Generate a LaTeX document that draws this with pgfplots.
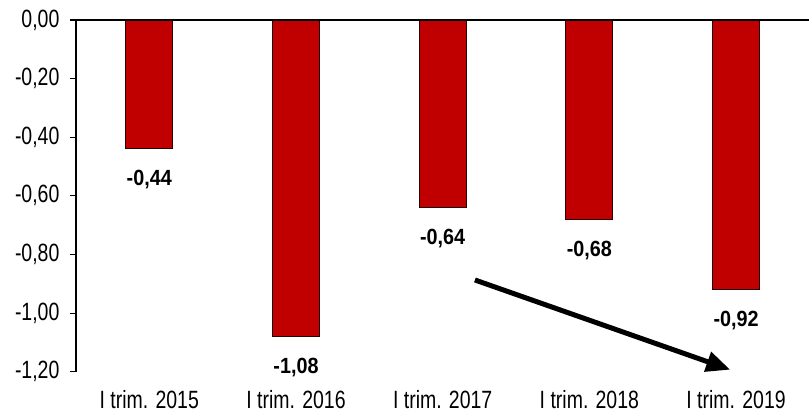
\documentclass[border=0pt]{standalone}
\usepackage{fontspec}
\setmainfont{Liberation Sans}
\newfontfamily\tickfont{Liberation Sans}[FakeStretch=0.78]
\newfontfamily\labfont{Liberation Sans}[FakeStretch=0.9]
\usepackage{pgfplots}
\pgfplotsset{compat=1.18}
\usetikzlibrary{arrows.meta}
\definecolor{barred}{HTML}{C00000}
\begin{document}
\begin{tikzpicture}
\path (-76pt,-43pt) rectangle (734pt,372pt);
\begin{axis}[
  at={(0,0)}, anchor=south west,
  scale only axis, width=734pt, height=352pt,
  xmin=-0.5, xmax=4.5, ymin=-1.2, ymax=0,
  axis x line=bottom, axis y line=left,
  x axis line style={draw=none},
  y axis line style={-, line width=1.2pt},
  ybar, bar width=47pt,
  xtick=data,
  xticklabels={I trim. 2015,I trim. 2016,I trim. 2017,I trim. 2018,I trim. 2019},
  xtick style={draw=none},
  xticklabel style={font=\tickfont\fontsize{25}{28}\selectfont, yshift=-9pt},
  ytick={-1.2,-1.0,-0.8,-0.6,-0.4,-0.2,0},
  ytick style={line width=1.2pt, black},
  tick align=outside, major tick length=6pt,
  yticklabel style={font=\tickfont\fontsize{25}{28}\selectfont, xshift=-7pt,
    /pgf/number format/.cd, fixed, fixed zerofill, precision=2, use comma, assume math mode=true},
  nodes near coords={\pgfmathprintnumber[fixed,fixed zerofill,precision=2,use comma,assume math mode=true]{\pgfplotspointmeta}},
  every node near coord/.append style={font=\labfont\bfseries\fontsize{22}{26}\selectfont, anchor=north, inner sep=0pt, yshift=-21pt, black},
  clip=false,
]
\addplot[fill=barred, draw=black!85!red, line width=1pt] coordinates {(0,-0.44) (1,-1.08) (2,-0.64) (3,-0.68) (4,-0.92)};
\draw[line width=1.2pt] (axis cs:-0.5,0) -- (axis cs:4.5,0);
\draw[line width=5pt, -{Triangle[length=24pt,width=20pt]}] (axis cs:2.22,-0.887) -- (axis cs:3.96,-1.193);
\end{axis}
\end{tikzpicture}
\end{document}
